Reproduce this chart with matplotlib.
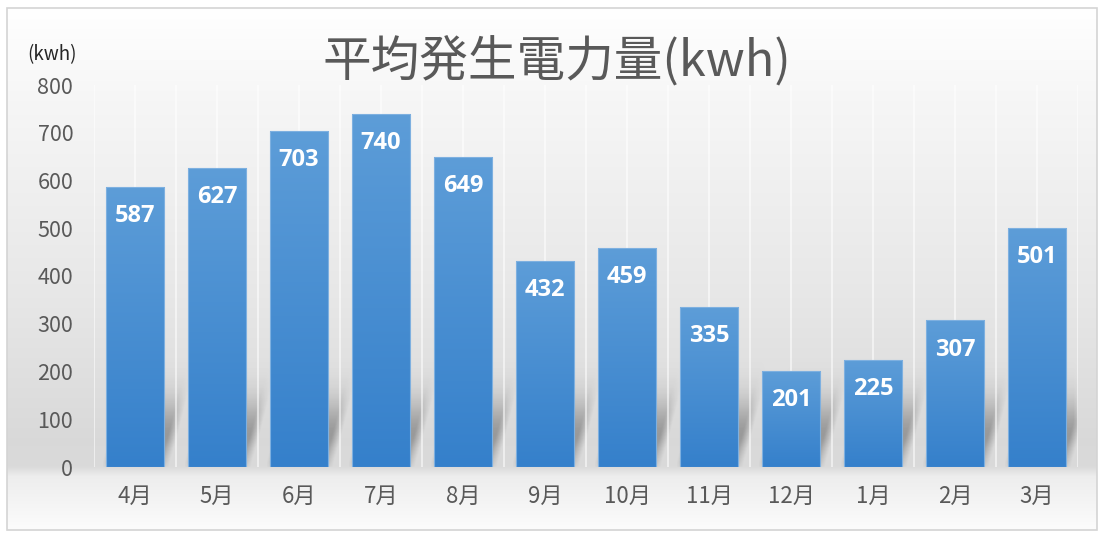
import numpy as np
import matplotlib
matplotlib.use("Agg")
import matplotlib.pyplot as plt
from matplotlib.patches import Rectangle
from matplotlib.colors import to_rgb

plt.rcParams['font.family'] = ['Noto Sans CJK JP', 'DejaVu Sans']

# ---- data ----
months = ["4月", "5月", "6月", "7月", "8月", "9月", "10月", "11月", "12月", "1月", "2月", "3月"]
values = [587, 627, 703, 740, 649, 432, 459, 335, 201, 225, 307, 501]
yticks = [0, 100, 200, 300, 400, 500, 600, 700, 800]
title = "平均発生電力量(kwh)"
unit_label = "(kwh)"

W, H = 1099, 535
fig = plt.figure(figsize=(W / 100, H / 100), dpi=100)
fig.patch.set_facecolor("white")

# ---- background gradient (figure-wide) ----
bg = fig.add_axes([0, 0, 1, 1], zorder=-10)
ys = np.arange(H)
stops_y = [0, 8, 100, 300, 440, 466, 476, 530, 535]
stops_v = [1.0, 1.0, 0.965, 0.905, 0.85, 0.855, 0.93, 0.99, 1.0]
v = np.interp(ys, stops_y, stops_v)
grad = np.repeat(v[:, None], W, axis=1)
img = np.dstack([grad, grad, grad])
img[:, :7] = 1.0
img[:, W - 2:] = 1.0
img[:8] = 1.0
img[531:] = 1.0
bg.imshow(img, extent=[0, W, H, 0], aspect="auto", interpolation="bilinear")
bg.set_xlim(0, W)
bg.set_ylim(H, 0)
bg.axis("off")
bg.add_patch(Rectangle((7, 8), W - 9, 522, fill=False, edgecolor="#d4d4d4", lw=1.2))

# ---- main axes ----
x0p, x1p, ytop, ybot = 94, 1078, 85, 467
ax = fig.add_axes([x0p / W, 1 - ybot / H, (x1p - x0p) / W, (ybot - ytop) / H])
ax.set_facecolor("none")
n = len(months)
ax.set_xlim(-0.5, n - 0.5)
ax.set_ylim(0, 800)
for s in ax.spines.values():
    s.set_visible(False)

xs = np.arange(n)
bw = 0.71

# ---- shadows ----
nxp = x1p - x0p
nyp = ybot - ytop
xpx = np.arange(nxp) + 0.5
ypx = np.arange(nyp) + 0.5
XX, YY = np.meshgrid(xpx, ypx)
pxu = nxp / n
prof = np.where(YY < 30, 0.5 + 0.5 * YY / 30, np.exp(-((YY - 30) / 36.0) ** 2))
D = np.zeros_like(XX)
for i in range(n):
    left = (xs[i] - bw / 2 + 0.5) * pxu
    right = (xs[i] + bw / 2 + 0.5) * pxu
    sh = 0.27 * YY
    m = (XX >= left + sh) & (XX <= right + sh)
    D = np.maximum(D, m * prof)
k = np.ones(9) / 9
D = np.apply_along_axis(lambda r: np.convolve(r, k, mode="same"), 1, D)
D = np.apply_along_axis(lambda c: np.convolve(c, k, mode="same"), 0, D)
shadow = np.zeros((nyp, nxp, 4))
shadow[..., 3] = 0.3 * D
ax.imshow(shadow, extent=[-0.5, n - 0.5, 0, 800], origin="lower",
          aspect="auto", zorder=1, interpolation="bilinear")

# ---- vertical light gridlines ----
ax.vlines(np.arange(-0.5, n, 0.5), 0, 800, colors="white", alpha=0.55, lw=1.5, zorder=2)

# ---- bars ----
bars = ax.bar(xs, values, width=bw, color="none", edgecolor="#7eb0e0", lw=0.8, zorder=4)
top_c = np.array(to_rgb("#5d9dd8"))
bot_c = np.array(to_rgb("#3580cb"))
t = np.linspace(0, 1, 128)[:, None]
gcol = (bot_c * (1 - t) + top_c * t)[:, None, :]
for b in bars:
    im = ax.imshow(gcol, extent=[b.get_x(), b.get_x() + b.get_width(), 0, b.get_height()],
                   origin="lower", aspect="auto", zorder=3, interpolation="bilinear")
    im.set_clip_path(b)

for xi, val in zip(xs, values):
    ax.annotate(str(val), (xi, val), xytext=(0, -21), textcoords="offset points",
                ha="center", va="center", color="white", fontsize=17,
                fontweight="bold", family=["Open Sans", "DejaVu Sans"], zorder=6)

ax.set_xlim(-0.5, n - 0.5)
ax.set_ylim(0, 800)
ax.set_yticks(yticks)
ax.set_yticklabels([str(y) for y in yticks])
ax.set_xticks(xs)
ax.set_xticklabels(months)
ax.tick_params(axis="y", length=0, pad=15, labelsize=15.5, labelcolor="#595959")
ax.tick_params(axis="x", length=0, pad=13, labelsize=16, labelcolor="#595959")

fig.text(557 / W, 1 - 62 / H, title, ha="center", va="center", fontsize=35, color="#595959")
fig.text(52 / W, 1 - 55 / H, unit_label, ha="center", va="center", fontsize=13.5, color="#262626")

fig.savefig("out.png", dpi=100, facecolor=fig.get_facecolor())
